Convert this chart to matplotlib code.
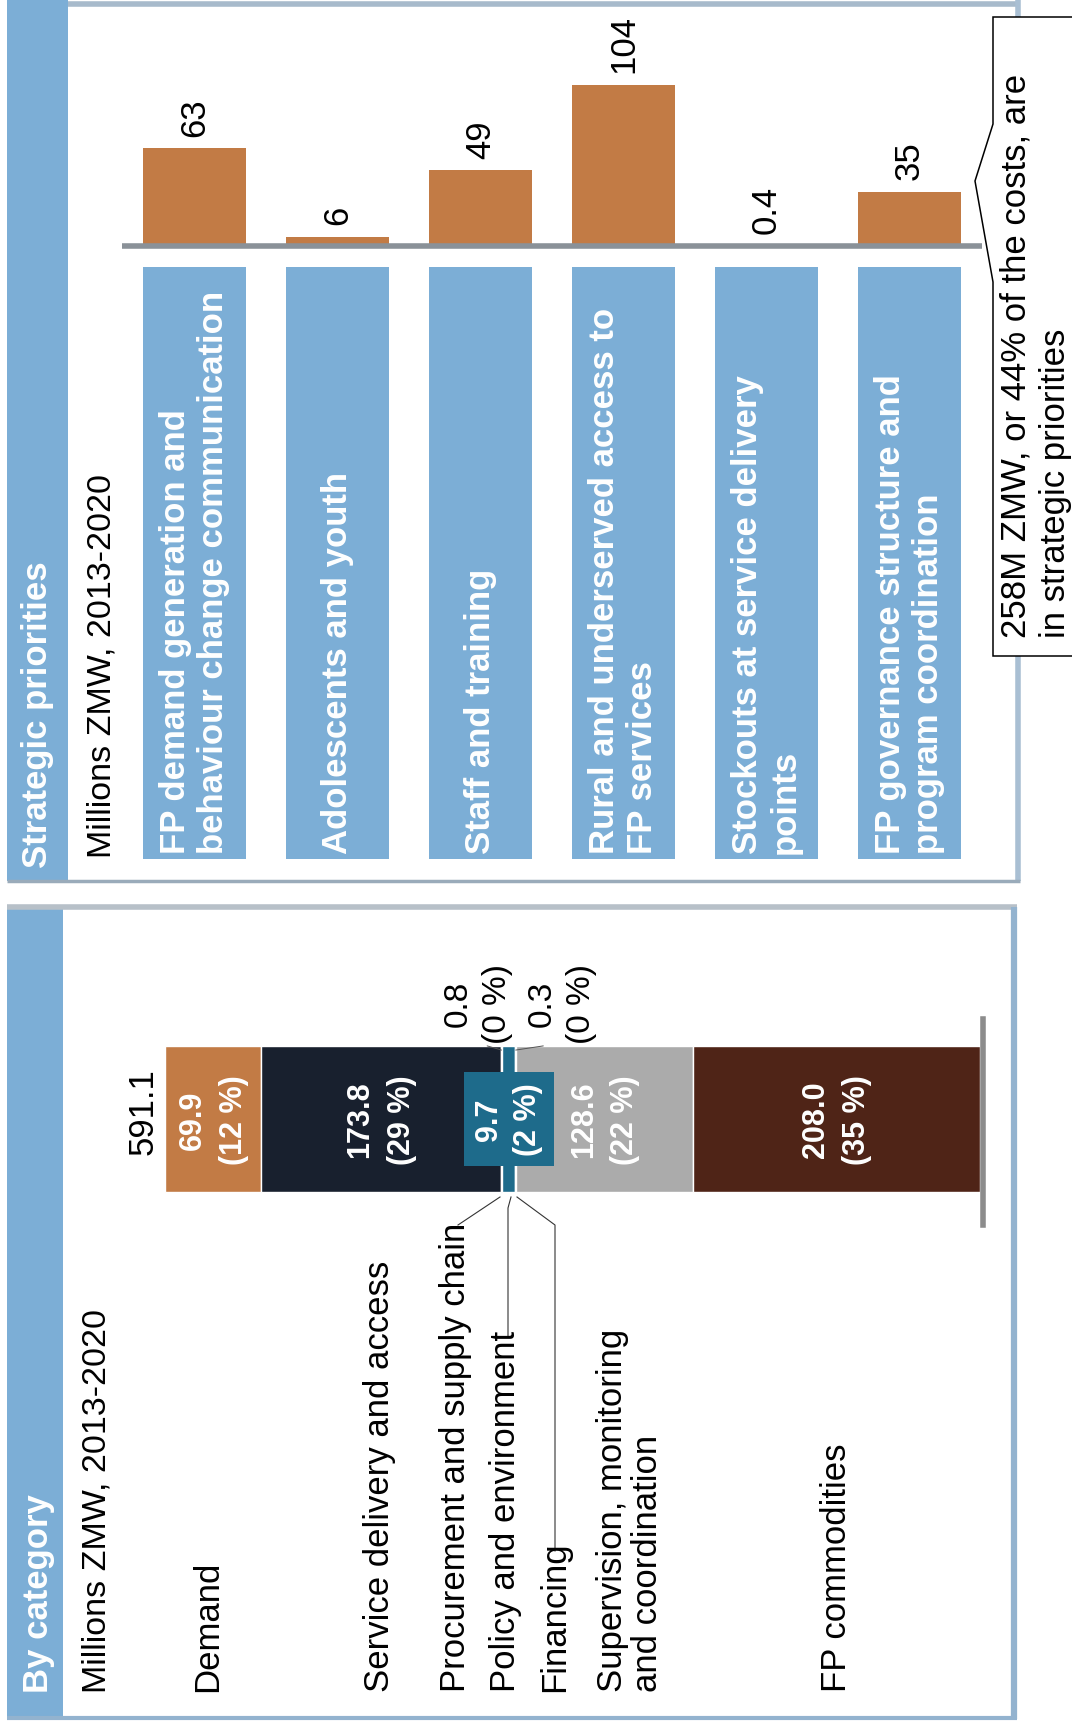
import matplotlib.pyplot as plt
from matplotlib.patches import Rectangle, Polygon

plt.rcParams['font.family'] = ['Liberation Sans', 'DejaVu Sans']

# Strategic priorities, millions ZMW 2013-2020
priority_labels = [
    "FP demand generation and\nbehaviour change communication",
    "Adolescents and youth",
    "Staff and training",
    "Rural and underserved access to\nFP services",
    "Stockouts at service delivery\npoints",
    "FP governance structure and\nprogram coordination",
]
priority_values = [63, 6, 49, 104, 0.4, 35]
priority_text = ["63", "6", "49", "104", "0.4", "35"]

# Costs by category, millions ZMW 2013-2020
category_labels = [
    "Demand",
    "Service delivery and access",
    "Procurement and supply chain",
    "Policy and environment",
    "Financing",
    "Supervision, monitoring\nand coordination",
    "FP commodities",
]
category_values = [69.9, 173.8, 0.8, 9.7, 0.3, 128.6, 208.0]

callout_text = "258M ZMW, or 44% of the costs, are\nin strategic priorities"

ORANGE = "#C27B45"
BLUE = "#7CAED6"
NAVY = "#18202E"
TEAL = "#1E6B8B"
GREY = "#ABABAB"
BROWN = "#4F2417"
category_colors = [ORANGE, NAVY, TEAL, TEAL, TEAL, GREY, BROWN]

W, H = 1072, 1724


def px_rect(x0, y0, x1, y1):
    # pixel box (top-left origin) -> figure fraction
    return [x0 / W, 1 - y1 / H, (x1 - x0) / W, (y1 - y0) / H]


fig = plt.figure(figsize=(W / 100, H / 100), dpi=100)
fig.patch.set_facecolor("white")

# background layer in pixel coordinates
bg = fig.add_axes([0, 0, 1, 1])
bg.set_xlim(0, W)
bg.set_ylim(H, 0)
bg.axis("off")

# panel frames
bg.plot([68, 1020], [5, 5], color="#A7BACB", lw=4, solid_capstyle="butt")
bg.plot([1018, 1018], [0, 882], color="#A9BFD3", lw=4, solid_capstyle="butt")
bg.plot([7, 1020], [882, 882], color="#9AABBA", lw=2.5, solid_capstyle="butt")
bg.add_patch(Rectangle((7, 0), 61, 882, color=BLUE, lw=0))

bg.plot([7, 1017], [908, 908], color="#B7C0C8", lw=4, solid_capstyle="butt")
bg.plot([1014, 1014], [908, 1720], color="#93B3CF", lw=4.5, solid_capstyle="butt")
bg.plot([7, 1017], [1719, 1719], color="#93B3CF", lw=3, solid_capstyle="butt")
bg.add_patch(Rectangle((7, 908), 56, 811, color=BLUE, lw=0))

txt = dict(rotation=90, ha="center", va="bottom", multialignment="left")
bg.text(38, 868, "Strategic priorities", color="white", fontsize=25,
        fontweight="bold", **txt)
bg.text(102, 858, "Millions ZMW, 2013-2020", color="black", fontsize=24.5, **txt)
bg.text(39, 1693, "By category", color="white", fontsize=25,
        fontweight="bold", **txt)
bg.text(97, 1693, "Millions ZMW, 2013-2020", color="black", fontsize=24.5, **txt)

# category names along the stacked bar
label_x = [208, 379, 455, 506, 555, 630, 837]
for x, lab in zip(label_x, category_labels):
    bg.text(x, 1692, lab, fontsize=25, linespacing=1.1, **txt)

# leader lines for the thin segments
lc = dict(color="#333333", lw=0.8)
bg.plot([458, 500], [1226, 1198], **lc)
bg.plot([508, 508, 511], [1338, 1209, 1198], **lc)
bg.plot([555, 555, 517], [1552, 1226, 1198], **lc)

# callout box
bg.add_patch(Polygon([(1072, 18), (993, 18), (993, 125), (975, 182),
                      (993, 283), (993, 657), (1072, 657)],
                     closed=False, fc="white", ec="black", lw=1.1, zorder=5))
bg.text(1036, 638, callout_text, fontsize=25, linespacing=1.25, zorder=6, **txt)

# strategic priorities bars
ax1 = fig.add_axes(px_rect(122, 0, 982, 870))
ax1.patch.set_alpha(0)
px_per_unit = 1.55
ax1.set_xlim(-0.507, 5.507)
ax1.set_ylim(-(870 - 247) / px_per_unit, 247 / px_per_unit)
ax1.axis("off")
xs = range(len(priority_values))
ax1.bar(xs, priority_values, width=0.72, color=ORANGE, zorder=2)
ax1.axhline(0, color="#8A9198", lw=4, zorder=3)
for i, (v, t) in enumerate(zip(priority_values, priority_text)):
    ax1.annotate(t, (i, v), xytext=(0, 9), textcoords="offset points",
                 fontsize=25, **txt)
for i, lab in enumerate(priority_labels):
    ax1.add_patch(Rectangle((i - 0.36, -(860 - 247) / px_per_unit), 0.72,
                            (860 - 268) / px_per_unit, color=BLUE, lw=0))
    ax1.text(i, -(854 - 247) / px_per_unit, lab, color="white", fontsize=25,
             fontweight="bold", linespacing=1.2, **txt)

# stacked bar by category
ax2 = fig.add_axes(px_rect(150, 1010, 1000, 1230))
ax2.patch.set_alpha(0)
unit = 1.3788
ax2.set_xlim(-15 / unit, (1000 - 165) / unit)
ax2.set_ylim(-0.75, 0.75)
ax2.axis("off")
total = sum(category_values)
lefts = [sum(category_values[:i]) for i in range(len(category_values))]
ax2.barh(0, category_values, left=lefts, height=1.0, color=category_colors,
         edgecolor="white", linewidth=1.0, zorder=2)
ax2.axvline(total + 3 / unit, ymin=0.02, ymax=0.955, color="#8C8C8C", lw=4,
            zorder=3)
ax2.text(-22 / unit, 0.06, f"{total:.1f}", rotation=90, ha="center",
         va="center", fontsize=25)

for i, (v, left) in enumerate(zip(category_values, lefts)):
    pct = f"{v:.1f}\n({round(v / total * 100):.0f} %)"
    c = left + v / 2
    if v >= 20:
        ax2.text(c, 0, pct, rotation=90, ha="center", va="center",
                 multialignment="center", color="white", fontsize=22,
                 fontweight="bold", linespacing=1.5, zorder=4)
    elif v >= 5:
        ax2.text(c, 0, pct, rotation=90, ha="center", va="center",
                 multialignment="center", color="white", fontsize=22,
                 fontweight="bold", linespacing=1.4, zorder=4,
                 bbox=dict(boxstyle="square,pad=0.35", fc=TEAL, ec="none"))
    else:
        dx = -24 if v > 0.5 else 46
        ax2.annotate(pct, (c, 0.47), xytext=(dx * 0.72, 5), textcoords="offset points",
                     rotation=90, ha="center", va="bottom", multialignment="center",
                     fontsize=24, linespacing=1.35,
                     arrowprops=dict(arrowstyle="-", color="#555555", lw=0.7,
                                     shrinkA=0, shrinkB=0, relpos=(0.5, 0)))

fig.savefig("out.png", dpi=100, facecolor="white")
